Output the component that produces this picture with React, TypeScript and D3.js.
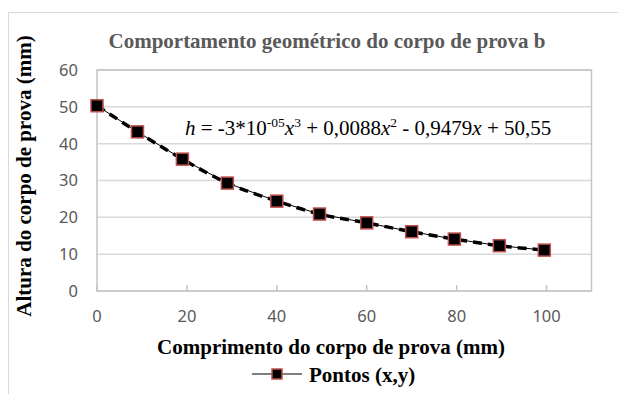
import React from "react";
import * as d3 from "d3";

const xValues = [0, 9, 19, 29, 40, 49.5, 60, 70, 79.5, 89.5, 99.5];
const yValues = [50.3, 43.2, 35.8, 29.3, 24.4, 20.9, 18.5, 16.1, 14.1, 12.3, 11.1];
const xTicks = [0, 20, 40, 60, 80, 100];
const yTicks = [0, 10, 20, 30, 40, 50, 60];

const chartTitle = "Comportamento geométrico do corpo de prova b";
const xTitle = "Comprimento do corpo de prova (mm)";
const yTitle = "Altura do corpo de prova (mm)";
const legendLabel = "Pontos (x,y)";

const W = 618;
const H = 394;
const plot = { left: 97, right: 591.5, top: 70, bottom: 291 };

const serif = "'Liberation Serif', 'Times New Roman', serif";
const sans = "'Noto Sans', 'Open Sans', sans-serif";
const fs = 21;

const App: React.FC = () => {
  const points = xValues.map((x, i) => ({ x, y: yValues[i] }));

  const x = d3.scaleLinear().domain([0, 110]).range([plot.left, plot.right]);
  const y = d3.scaleLinear().domain([0, 60]).range([plot.bottom, plot.top]);

  const straight = d3
    .line<{ x: number; y: number }>()
    .x((d) => x(d.x))
    .y((d) => y(d.y));
  const trend = d3
    .line<{ x: number; y: number }>()
    .x((d) => x(d.x))
    .y((d) => y(d.y))
    .curve(d3.curveMonotoneX);

  const ms = 12;

  return (
    <svg
      width={W}
      height={H}
      style={{ position: "absolute", left: 0, top: 0, background: "#fff" }}
    >
      {/* chart area border */}
      <rect x={8.5} y={12.5} width={W + 20} height={H + 20} fill="#fff" stroke="#d9d9d9" />

      <text
        x={327}
        y={48}
        textAnchor="middle"
        fontFamily={serif}
        fontWeight="bold"
        fontSize={fs}
        fill="#595959"
      >
        {chartTitle}
      </text>

      {/* grid */}
      {yTicks.map((t) => (
        <line
          key={"g" + t}
          x1={plot.left}
          x2={plot.right}
          y1={y(t)}
          y2={y(t)}
          stroke="#d9d9d9"
          strokeWidth={1.5}
        />
      ))}
      <rect
        x={plot.left}
        y={plot.top}
        width={plot.right - plot.left}
        height={plot.bottom - plot.top}
        fill="none"
        stroke="#c4c4c4"
        strokeWidth={1.5}
      />
      {xTicks.map((t) => (
        <line
          key={"t" + t}
          x1={x(t)}
          x2={x(t)}
          y1={plot.bottom}
          y2={plot.bottom - 6}
          stroke="#c4c4c4"
          strokeWidth={1.5}
        />
      ))}

      {yTicks.map((t) => (
        <text
          key={"yl" + t}
          x={78}
          y={y(t)}
          dy="0.36em"
          textAnchor="end"
          fontFamily={sans}
          fontSize={16.5}
          fill="#595959"
        >
          {t}
        </text>
      ))}
      {xTicks.map((t) => (
        <text
          key={"xl" + t}
          x={x(t)}
          y={322}
          textAnchor="middle"
          fontFamily={sans}
          fontSize={16.5}
          fill="#595959"
        >
          {t}
        </text>
      ))}

      {/* series */}
      <path d={straight(points) ?? ""} fill="none" stroke="#000" strokeWidth={1} />
      <path
        d={trend(points) ?? ""}
        fill="none"
        stroke="#000"
        strokeWidth={3.5}
        strokeDasharray="9 6"
      />
      {points.map((p, i) => (
        <rect
          key={"m" + i}
          x={x(p.x) - ms / 2}
          y={y(p.y) - ms / 2}
          width={ms}
          height={ms}
          fill="#000"
          stroke="#c0504d"
          strokeWidth={1.5}
        />
      ))}

      <text x={185} y={135} fontFamily={serif} fontSize={fs} fill="#000">
        <tspan fontStyle="italic">h</tspan>
        <tspan> = -3*10</tspan>
        <tspan fontSize={13.5} dy={-8}>-05</tspan>
        <tspan fontStyle="italic" dy={8}>x</tspan>
        <tspan fontSize={13.5} dy={-8}>3</tspan>
        <tspan dy={8}> + 0,0088</tspan>
        <tspan fontStyle="italic">x</tspan>
        <tspan fontSize={13.5} dy={-8}>2</tspan>
        <tspan dy={8}> - 0,9479</tspan>
        <tspan fontStyle="italic">x</tspan>
        <tspan> + 50,55</tspan>
      </text>

      <text
        x={331}
        y={354}
        textAnchor="middle"
        fontFamily={serif}
        fontWeight="bold"
        fontSize={fs}
        fill="#000"
      >
        {xTitle}
      </text>
      <text
        transform={`translate(31,176) rotate(-90)`}
        textAnchor="middle"
        fontFamily={serif}
        fontWeight="bold"
        fontSize={fs}
        fill="#000"
      >
        {yTitle}
      </text>

      {/* legend */}
      <line x1={252} x2={302} y1={374} y2={374} stroke="#000" strokeWidth={1} />
      <rect x={272} y={369} width={10} height={10} fill="#000" stroke="#c0504d" strokeWidth={1.5} />
      <text x={309} y={382} fontFamily={serif} fontWeight="bold" fontSize={fs} fill="#000">
        {legendLabel}
      </text>
    </svg>
  );
};

export default App;
